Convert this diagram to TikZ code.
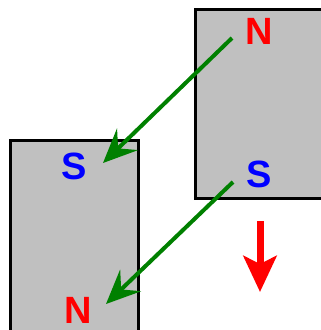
\documentclass[tikz,border=0pt]{standalone}
\usepackage{fontspec}
\setmainfont{Liberation Sans}
\usetikzlibrary{arrows.meta}

\begin{document}
\begin{tikzpicture}[x=1pt,y=-1pt]
\tikzset{
  magnet/.style={rectangle,draw=black,fill=magnetgray,line width=3pt,inner sep=0pt},
  pole/.style={font=\bfseries\fontsize{38}{38}\selectfont,inner sep=0pt},
  npole/.style={pole,text=red},
  spole/.style={pole,text=blue},
  fieldline/.style={draw=fieldgreen,line width=4pt,-{Stealth[length=34pt,width=30pt,inset=13pt]}},
  motion/.style={draw=red,line width=7pt,-{Stealth[length=36pt,width=33pt,inset=8pt]}}
}
\definecolor{magnetgray}{RGB}{192,192,192}
\definecolor{fieldgreen}{RGB}{0,128,0}
\useasboundingbox (0,0) rectangle (321,330);
\clip (0,0) rectangle (321,330);
\node[magnet,minimum width=128pt,minimum height=195pt] (magL) at (74,237.5) {};
\node[magnet,minimum width=133pt,minimum height=189pt] (magR) at (261.5,103.5) {};
\node[npole] (nR) at (259,31) {N};
\node[spole] (sR) at (259,174) {S};
\node[spole] (sL) at (74,166) {S};
\node[npole] (nL) at (78,310) {N};
\coordinate (f1a) at (232,38);
\coordinate (f1b) at (103,163);
\coordinate (f2a) at (233,182);
\coordinate (f2b) at (106,304);
\coordinate (m1) at (260,221);
\coordinate (m2) at (260,292);
\draw[fieldline] (f1a) -- (f1b);
\draw[fieldline] (f2a) -- (f2b);
\draw[motion] (m1) -- (m2);
\end{tikzpicture}
\end{document}
